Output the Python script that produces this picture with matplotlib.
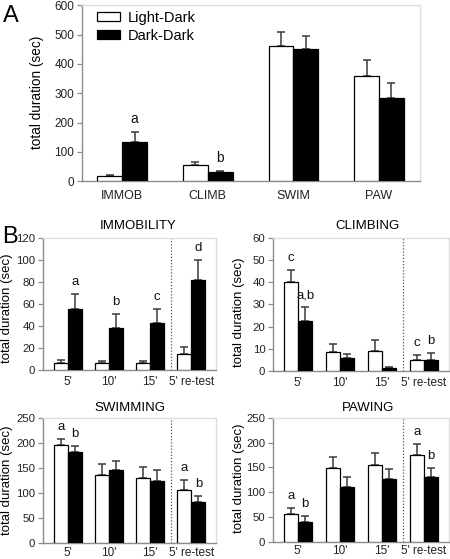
import matplotlib
matplotlib.use("Agg")
import matplotlib.pyplot as plt
from matplotlib.patches import Patch
import numpy as np

plt.rcParams['font.family'] = ['Liberation Sans', 'DejaVu Sans']

W, H = 450, 559

# ---------------- data ----------------
series_names = ["Light-Dark", "Dark-Dark"]

a_categories = ["IMMOB", "CLIMB", "SWIM", "PAW"]
a_ld = [18, 57, 461, 360]
a_ld_err = [4, 9, 49, 52]
a_dd = [134, 30, 450, 285]
a_dd_err = [34, 6, 45, 49]
a_letters = [(0, 1, "a"), (1, 1, "b")]

b_categories = ["5'", "10'", "15'", "5' re-test"]

immob_ld = [6.5, 6, 6, 14.5]
immob_ld_err = [2.5, 2.5, 2, 6]
immob_dd = [55, 38, 43, 82]
immob_dd_err = [14, 13, 12, 18]
immob_letters = [(0, 1, "a"), (1, 1, "b"), (2, 1, "c"), (3, 1, "d")]

climb_ld = [40, 8.7, 9, 5]
climb_ld_err = [5.6, 3.3, 5, 2]
climb_dd = [22.7, 5.7, 1.3, 4.8]
climb_dd_err = [6, 1.8, 0.6, 3.3]
climb_letters = [(0, 0, "c"), (0, 1, "a,b"), (3, 0, "c"), (3, 1, "b")]

swim_ld = [195, 136, 129, 106]
swim_ld_err = [12, 21, 22, 20]
swim_dd = [181, 145, 124, 82]
swim_dd_err = [13, 19, 21, 12]
swim_letters = [(0, 0, "a"), (0, 1, "b"), (3, 0, "a"), (3, 1, "b")]

paw_ld = [57, 149, 155, 174]
paw_ld_err = [12, 21, 23, 24]
paw_dd = [41, 110, 127, 131]
paw_dd_err = [11, 21, 20, 18]
paw_letters = [(0, 0, "a"), (0, 1, "b"), (3, 0, "a"), (3, 1, "b")]

# ---------------- helpers ----------------
def rect(l, t, r, b):
    return [l / W, 1 - b / H, (r - l) / W, (b - t) / H]

fig = plt.figure(figsize=(W / 100, H / 100), dpi=100)

SPINE = "#8c8c8c"
BORDER = "#dedede"
ERRC = "#3a3a3a"


def style(ax, ymax, ystep, xlim, ticksize):
    ax.set_ylim(0, ymax)
    ax.set_yticks(np.arange(0, ymax + 0.1, ystep))
    ax.set_xlim(*xlim)
    for s in ["left", "bottom"]:
        ax.spines[s].set_color(SPINE)
        ax.spines[s].set_linewidth(1.0)
    for s in ["top", "right"]:
        ax.spines[s].set_color(BORDER)
        ax.spines[s].set_linewidth(1.0)
    ax.tick_params(axis="y", direction="out", length=3.5, width=0.9,
                   color=SPINE, labelsize=ticksize, pad=2, labelcolor="#222222")
    ax.tick_params(axis="x", length=0, labelsize=ticksize + 0.5, pad=5,
                   labelcolor="#222222")


def bars(ax, cats, ld, lde, dd, dde, width, letters, fs, capsize):
    x = np.arange(len(cats))
    ax.bar(x - width / 2, ld, width, color="white", edgecolor="black",
           linewidth=0.9, zorder=3)
    ax.bar(x + width / 2, dd, width, color="black", edgecolor="black",
           linewidth=0.9, zorder=3)
    ax.errorbar(x - width / 2, ld, yerr=[np.zeros(len(ld)), lde], fmt="none",
                ecolor=ERRC, elinewidth=1.1, capsize=capsize, capthick=1.1,
                zorder=2)
    ax.errorbar(x + width / 2, dd, yerr=[np.zeros(len(dd)), dde], fmt="none",
                ecolor=ERRC, elinewidth=1.1, capsize=capsize, capthick=1.1,
                zorder=2)
    ax.set_xticks(x)
    ax.set_xticklabels(cats)
    vals = [ld, dd]
    errs = [lde, dde]
    for gi, si, txt in letters:
        xx = gi + (-width / 2 if si == 0 else width / 2)
        top = vals[si][gi] + errs[si][gi]
        ax.annotate(txt, xy=(xx, top), xytext=(0, 6.5),
                    textcoords="offset points", ha="center", va="baseline",
                    fontsize=fs, color="#111111")


# ---------------- Panel A ----------------
axA = fig.add_axes(rect(82, 5.3, 420, 181.3))
style(axA, 600, 100, (-0.47, 3.48), 8.5)
bars(axA, a_categories, a_ld, a_ld_err, a_dd, a_dd_err, 0.29, a_letters, 10, 3)
axA.tick_params(axis="x", labelsize=9, pad=6)
handles = [Patch(facecolor="white", edgecolor="black", linewidth=0.9),
           Patch(facecolor="black", edgecolor="black", linewidth=0.9)]
axA.legend(handles, series_names, loc="upper left", bbox_to_anchor=(0.035, 0.985),
           frameon=False, fontsize=10.5, handlelength=1.6, handleheight=0.55,
           handletextpad=0.5, labelspacing=0.25, borderpad=0.2,
           borderaxespad=0)
fig.text(37 / W, 1 - 92.5 / H, "total duration (sec)", rotation=90,
         ha="center", va="center", fontsize=9.8)
fig.text(3 / W, 1 - 5 / H, "A", ha="left", va="top", fontsize=17)

# ---------------- Panel B ----------------
B_XLIM = (-0.6, 3.6)
BW = 0.34
panels = [
    ("IMMOBILITY", rect(43, 237.7, 216, 370), 120, 20,
     immob_ld, immob_ld_err, immob_dd, immob_dd_err, immob_letters,
     7.5, 308, 138, 226.5, 4),
    ("CLIMBING", rect(273, 237.7, 449, 371), 60, 10,
     climb_ld, climb_ld_err, climb_dd, climb_dd_err, climb_letters,
     239, 312, 368, 226.5, 4),
    ("SWIMMING", rect(43, 417.7, 216, 543.3), 250, 50,
     swim_ld, swim_ld_err, swim_dd, swim_dd_err, swim_letters,
     7.5, 480, 130, 408, 2.5),
    ("PAWING", rect(273, 417.7, 449, 542), 250, 50,
     paw_ld, paw_ld_err, paw_dd, paw_dd_err, paw_letters,
     239, 478, 368, 408, 2.5),
]
for (title, pos, ymax, ystep, ld, lde, dd, dde, letters,
     ylx, yly, tx, ty, xpad) in panels:
    ax = fig.add_axes(pos)
    style(ax, ymax, ystep, B_XLIM, 8.2)
    bars(ax, b_categories, ld, lde, dd, dde, BW, letters, 9.5, 2.6)
    ax.tick_params(axis="x", labelsize=8.5, pad=xpad)
    ax.axvline(2.5, color="#555555", linestyle=(0, (1, 1.5)), linewidth=0.9,
               zorder=1)
    fig.text(ylx / W, 1 - yly / H, "total duration (sec)", rotation=90,
             ha="center", va="center", fontsize=9.5)
    fig.text(tx / W, 1 - ty / H, title, ha="center", va="center", fontsize=9.5)

fig.text(2 / W, 1 - 226 / H, "B", ha="left", va="top", fontsize=17)

fig.savefig("out.png", dpi=100)
